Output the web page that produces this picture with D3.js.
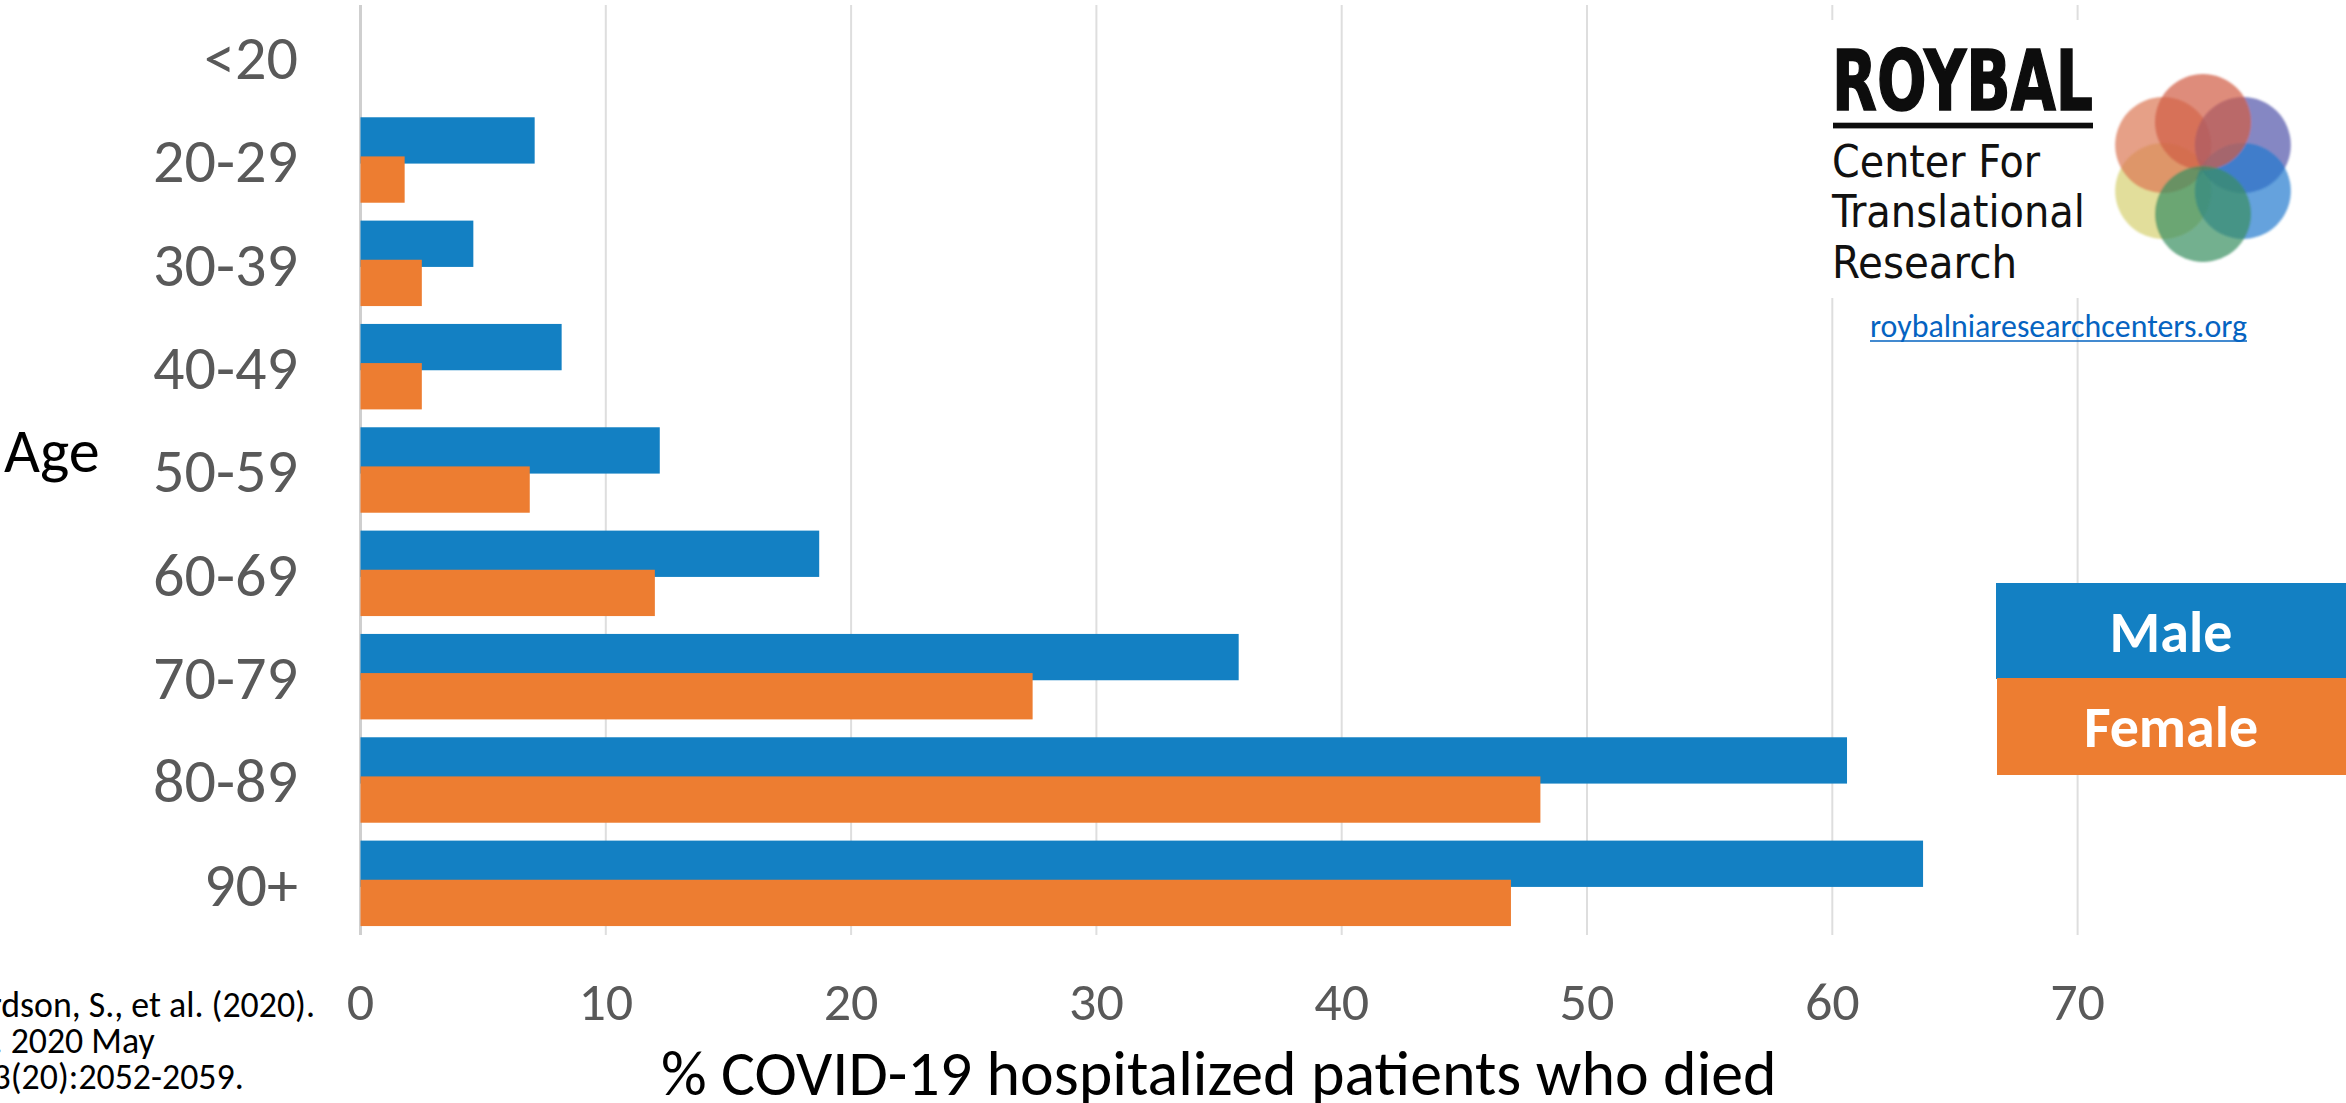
<!DOCTYPE html>
<html>
<head>
<meta charset="utf-8">
<script src="https://cdn.jsdelivr.net/npm/d3@7"></script>
<style>
  html, body { margin: 0; padding: 0; background: #fff; }
  svg { display: block; }
</style>
</head>
<body>
<svg id="chart" width="2346" height="1103"></svg>
<script>
// In-hospital mortality of COVID-19 patients by age band and sex (%)
const ageGroups = ["<20", "20-29", "30-39", "40-49", "50-59", "60-69", "70-79", "80-89", "90+"];
const maleDeathPct = [0, 7.1, 4.6, 8.2, 12.2, 18.7, 35.8, 60.6, 63.7];
const femaleDeathPct = [0, 1.8, 2.5, 2.5, 6.9, 12.0, 27.4, 48.1, 46.9];
const seriesNames = ["Male", "Female"];
const xTickValues = [0, 10, 20, 30, 40, 50, 60, 70];

const axisTitle = "% COVID-19 hospitalized patients who died";
const ageLabel = "Age";
const citationLines = ["Richardson, S., et al. (2020).", "JAMA. 2020 May", "26;323(20):2052-2059."];
const logoTitle = "ROYBAL";
const logoLines = ["Center For", "Translational", "Research"];
const logoUrl = "roybalniaresearchcenters.org";

const W = 2346, H = 1103;
const FONT = "Carlito, Calibri, Lato, 'Open Sans', sans-serif";
const BLUE = "#1380C3", ORANGE = "#ED7D31";
const TICK_GREY = "#595959";

const svg = d3.select("#chart");
svg.append("rect").attr("width", W).attr("height", H).attr("fill", "#fff");

// scale a text's font size so its advance width equals the target width
function fitWidth(sel, target) {
  const fs = parseFloat(sel.attr("font-size"));
  const w = sel.node().getComputedTextLength();
  const nfs = fs * target / w;
  sel.attr("font-size", nfs);
  return nfs;
}

// ---- scales ----
const plotTop = 5, plotBottom = 935;
const x = d3.scaleLinear().domain([0, 80]).range([360.5, 360.5 + 8 * 245.3]);
const y = d3.scaleBand().domain(ageGroups).range([plotTop, plotBottom])
  .paddingInner(0.173).paddingOuter(0.0865);
const barH = y.bandwidth() * 0.542;
const sexOffset = { Male: 0, Female: y.bandwidth() - barH };

// ---- gridlines ----
const grid = svg.append("g");
grid.selectAll("line").data(xTickValues).join("line")
  .attr("x1", d => x(d)).attr("x2", d => x(d))
  .attr("y1", plotTop).attr("y2", plotBottom)
  .attr("stroke", d => d === 0 ? "#cfcfcf" : "#dedede")
  .attr("stroke-width", d => d === 0 ? 3 : 2);

// ---- logo block (white card over the grid) ----
const logo = svg.append("g");
logo.append("rect").attr("x", 1815).attr("y", 20).attr("width", 490).attr("height", 278).attr("fill", "#fff");

const logoFont = "'Liberation Sans Narrow', 'DejaVu Sans Condensed', 'Liberation Sans', Arial, sans-serif";
logo.append("text").text(logoTitle)
  .attr("x", 1832).attr("y", 110)
  .attr("font-family", logoFont).attr("font-weight", 900).attr("font-stretch", "condensed")
  .attr("font-size", 84).attr("fill", "#0d0d0d")
  .attr("stroke", "#0d0d0d").attr("stroke-width", 1.5)
  .attr("textLength", 261).attr("lengthAdjust", "spacingAndGlyphs");
logo.append("rect").attr("x", 1833).attr("y", 122.7).attr("width", 260).attr("height", 5.7).attr("fill", "#0d0d0d");
const logoLineY = [176.7, 226.7, 278];
const logoLineW = [208, 253, 185];
logoLines.forEach((t, i) => {
  logo.append("text").text(t)
    .attr("x", 1832).attr("y", logoLineY[i])
    .attr("font-family", logoFont).attr("font-stretch", "condensed")
    .attr("font-size", 44).attr("fill", "#111")
    .attr("textLength", logoLineW[i]).attr("lengthAdjust", "spacingAndGlyphs");
});

// six overlapping circles of the emblem, on a hexagonal ring
const petals = [
  { a: -150, c: "#D6D06F" },  // lower left, yellow
  { a: 150,  c: "#DC7856" },  // upper left, salmon
  { a: 30,   c: "#5354AA" },  // upper right, violet
  { a: -30,  c: "#237ACE" },  // lower right, blue
  { a: 90,   c: "#D05C44" },  // top, red
  { a: -90,  c: "#388E61" }   // bottom, green
];
const defs = svg.append("defs");
defs.append("filter").attr("id", "soft").append("feGaussianBlur").attr("stdDeviation", 0.9);
const emblem = logo.append("g").attr("filter", "url(#soft)");
const ecx = 2203, ecy = 168, ring = 46, pr = 48;
emblem.selectAll("circle").data(petals).join("circle")
  .attr("cx", d => ecx + ring * Math.cos(d.a * Math.PI / 180))
  .attr("cy", d => ecy - ring * Math.sin(d.a * Math.PI / 180))
  .attr("r", pr)
  .attr("fill", d => d.c)
  .attr("fill-opacity", 0.7);

const link = svg.append("text").text(logoUrl)
  .attr("x", 1870).attr("y", 336.5)
  .attr("font-family", FONT).attr("font-size", 28).attr("fill", "#0563C1");
fitWidth(link, 377);
svg.append("line").attr("x1", 1870).attr("x2", 2247).attr("y1", 341).attr("y2", 341)
  .attr("stroke", "#0563C1").attr("stroke-width", 1.6);

// ---- bars ----
const rows = ageGroups.map((g, i) => ({ group: g, Male: maleDeathPct[i], Female: femaleDeathPct[i] }));
const bars = svg.append("g");
rows.forEach(r => {
  seriesNames.forEach(s => {
    bars.append("rect")
      .attr("x", x(0))
      .attr("y", y(r.group) + sexOffset[s])
      .attr("width", x(r[s]) - x(0))
      .attr("height", barH)
      .attr("fill", s === "Male" ? BLUE : ORANGE);
  });
});

// ---- y axis labels ----
const yLab = svg.append("g").selectAll("text").data(ageGroups).join("text")
  .text(d => d)
  .attr("x", 298).attr("y", d => y(d) + y.bandwidth() / 2)
  .attr("dy", "0.36em")
  .attr("text-anchor", "end")
  .attr("font-family", FONT).attr("font-size", 55).attr("fill", TICK_GREY);
// size all category labels from the width of one of them
const probe = svg.append("text").text("20-29").attr("font-family", FONT).attr("font-size", 55);
const yfs = fitWidth(probe, 145);
probe.remove();
yLab.attr("font-size", yfs);

svg.append("text").text(ageLabel)
  .attr("x", 4).attr("y", 471.7)
  .attr("font-family", FONT).attr("font-size", yfs).attr("fill", "#000");

// ---- x axis labels ----
svg.append("g").selectAll("text").data(xTickValues).join("text")
  .text(d => d)
  .attr("x", d => x(d)).attr("y", 1020)
  .attr("text-anchor", "middle")
  .attr("font-family", FONT).attr("font-size", yfs * 0.87).attr("fill", TICK_GREY);

const title = svg.append("text").text(axisTitle)
  .attr("x", 661).attr("y", 1095)
  .attr("font-family", FONT).attr("font-size", 62).attr("fill", "#000");
fitWidth(title, 1116);

// ---- legend ----
const legend = svg.append("g");
const legendBoxes = [
  { name: seriesNames[0], x: 1996, y: 583, w: 350, h: 96, c: BLUE, ty: 652 },
  { name: seriesNames[1], x: 1997, y: 678, w: 349, h: 97, c: ORANGE, ty: 747 }
];
legendBoxes.forEach(b => {
  legend.append("rect").attr("x", b.x).attr("y", b.y).attr("width", b.w).attr("height", b.h).attr("fill", b.c);
});
legendBoxes.forEach(b => {
  legend.append("text").text(b.name)
    .attr("x", 2171).attr("y", b.ty).attr("text-anchor", "middle")
    .attr("font-family", FONT).attr("font-weight", 700).attr("font-size", 58).attr("fill", "#fff");
});

// ---- source note: left-aligned text box that runs past the left edge ----
const cite = svg.append("g");
const citeYs = [1017, 1053, 1089];
const citeEnd = 315;
// size the note so the tail of its first line spans the visible strip
const citeProbe = cite.append("text").text(citationLines[0].slice(6))
  .attr("font-family", FONT).attr("font-size", 31);
const citeFs = fitWidth(citeProbe, citeEnd - 1);
citeProbe.remove();
const c0 = cite.append("text").text(citationLines[0])
  .attr("font-family", FONT).attr("font-size", citeFs).attr("fill", "#000");
const citeX = citeEnd - c0.node().getComputedTextLength();
c0.attr("x", citeX).attr("y", citeYs[0]);
citationLines.slice(1).forEach((t, i) => {
  cite.append("text").text(t)
    .attr("x", citeX).attr("y", citeYs[i + 1])
    .attr("font-family", FONT).attr("font-size", citeFs).attr("fill", "#000");
});
</script>
</body>
</html>
